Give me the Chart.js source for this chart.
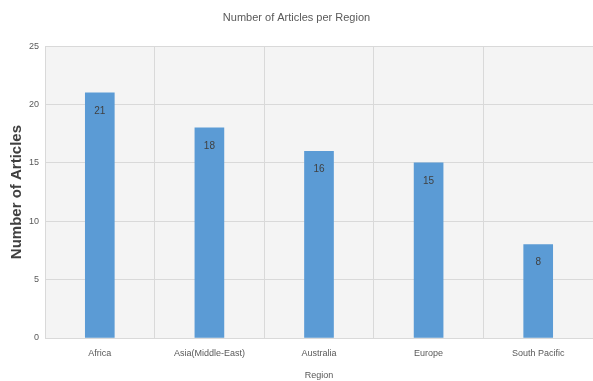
<!DOCTYPE html>
<html><head><meta charset="utf-8">
<script src="https://cdn.jsdelivr.net/npm/chart.js@4.4.0/dist/chart.umd.min.js"></script>
<style>html,body{margin:0;padding:0;background:#fff}#w{width:593px;height:381px}</style>
</head><body><div id="w"><canvas id="c"></canvas></div>
<script>
const categories = ["Africa", "Asia(Middle-East)", "Australia", "Europe", "South Pacific"];
const articleCounts = [21, 18, 16, 15, 8];
const yTicks = [0, 5, 10, 15, 20, 25];

const plotBg = {
  id: 'plotBg',
  beforeDraw(chart) {
    const {ctx, chartArea: a} = chart;
    ctx.save();
    ctx.fillStyle = '#ffffff';
    ctx.fillRect(0, 0, chart.width, chart.height);
    ctx.fillStyle = '#f4f4f4';
    ctx.fillRect(a.left, a.top, a.right - a.left, a.bottom - a.top);
    ctx.restore();
  }
};
const barLabels = {
  id: 'barLabels',
  afterDatasetsDraw(chart) {
    const {ctx} = chart;
    const meta = chart.getDatasetMeta(0);
    ctx.save();
    ctx.font = '10px "Liberation Sans Narrow", "Liberation Sans", sans-serif';
    ctx.fillStyle = '#404040';
    ctx.textAlign = 'center';
    ctx.textBaseline = 'middle';
    meta.data.forEach((bar, i) => {
      ctx.fillText(String(chart.data.datasets[0].data[i]), bar.x, bar.y + 18);
    });
    ctx.restore();
  }
};

new Chart(document.getElementById('c'), {
  type: 'bar',
  data: {
    labels: categories,
    datasets: [{
      data: articleCounts,
      backgroundColor: '#5b9bd5',
      borderWidth: 0,
      barThickness: 29
    }]
  },
  options: {
    responsive: true,
    maintainAspectRatio: false,
    animation: false,
    layout: { padding: { left: 0, right: 0, top: 0, bottom: 0 } },
    plugins: {
      legend: { display: false },
      tooltip: { enabled: false },
      title: {
        display: true,
        text: 'Number of Articles per Region',
        color: '#595959',
        font: { family: '"Liberation Sans Narrow", "Liberation Sans", sans-serif', size: 11, weight: 'normal' },
        padding: { top: 11, bottom: 22 }
      }
    },
    scales: {
      x: {
        grid: { color: '#d9d9d9', drawTicks: false, offset: true },
        border: { color: '#d9d9d9' },
        ticks: {
          color: '#595959',
          padding: 10,
          maxRotation: 0,
          font: { family: '"Liberation Sans Narrow", "Liberation Sans", sans-serif', size: 9 }
        },
        title: {
          display: true, text: 'Region', color: '#595959',
          font: { family: '"Liberation Sans Narrow", "Liberation Sans", sans-serif', size: 9 },
          padding: { top: 2, bottom: 0 }
        },
        afterFit(s) { s.height = 43; }
      },
      y: {
        min: 0, max: 25,
        afterBuildTicks(s) { s.ticks = yTicks.map(v => ({ value: v })); },
        grid: { color: '#d9d9d9', drawTicks: false },
        border: { display: false },
        ticks: {
          color: '#595959',
          padding: 6,
          font: { family: '"Liberation Sans Narrow", "Liberation Sans", sans-serif', size: 9 }
        },
        title: {
          display: true, text: 'Number of Articles', color: '#404040',
          font: { family: '"Liberation Sans", sans-serif', size: 15, weight: 'bold' },
          padding: { top: 8, bottom: 0 }
        },
        afterFit(s) { s.width = 45; }
      }
    }
  },
  plugins: [plotBg, barLabels]
});
</script></body></html>
